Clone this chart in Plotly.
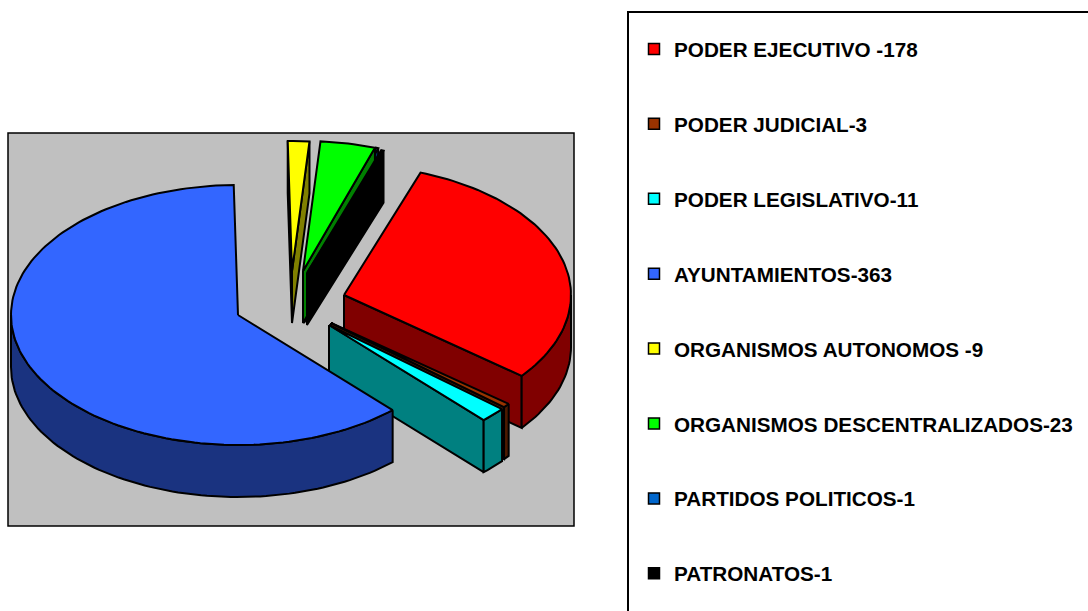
import math
import plotly.graph_objects as go

categories = ["PODER EJECUTIVO -178", "PODER JUDICIAL-3", "PODER LEGISLATIVO-11", "AYUNTAMIENTOS-363",
              "ORGANISMOS AUTONOMOS -9", "ORGANISMOS DESCENTRALIZADOS-23", "PARTIDOS POLITICOS-1", "PATRONATOS-1"]
values = [178, 3, 11, 363, 9, 23, 1, 1]
top_colors = ["#FF0000", "#993300", "#00FFFF", "#3366FF", "#FFFF00", "#00FF00", "#0066CC", "#000000"]
side_colors = ["#800000", "#4D1A00", "#008080", "#1A3380", "#808000", "#008000", "#003366", "#000000"]

# Drawing geometry (pixels of the pseudo-3D projection)
apex_x = [344, 331, 329, 238, 292, 303, 304, 307]
apex_y = [295, 323, 325, 315, 271, 271, 271, 273]
RX, RY, DEPTH = 227, 130, 52
START_DEG = 19.7
LINE = 2
draw_order = [6, 4, 5, 7, 0, 1, 2, 3]

total = sum(values)
starts, ends = [], []
a = START_DEG
for v in values:
    starts.append(a)
    a += v / total * 360
    ends.append(a)


def pt(i, deg):
    t = math.radians(deg)
    return apex_x[i] + RX * math.sin(t), apex_y[i] - RY * math.cos(t)


def arc(i, a0, a1):
    n = max(2, int(abs(a1 - a0) / 1.5) + 2)
    return [pt(i, a0 + (a1 - a0) * k / (n - 1)) for k in range(n)]


fig = go.Figure()


def poly(points, color, hover):
    xs = [p[0] for p in points] + [points[0][0]]
    ys = [p[1] for p in points] + [points[0][1]]
    fig.add_trace(go.Scatter(x=xs, y=ys, mode="lines", fill="toself", fillcolor=color,
                             line=dict(color="black", width=LINE), showlegend=False,
                             hoverinfo="text", text=hover))


def face(i, deg, color, hover):
    p = pt(i, deg)
    o = (apex_x[i], apex_y[i])
    poly([o, p, (p[0], p[1] + DEPTH), (o[0], o[1] + DEPTH)], color, hover)


for i in draw_order:
    s, e = starts[i], ends[i]
    # radial faces that turn towards the viewer
    if math.cos(math.radians(s - 90)) < 0:
        face(i, s, side_colors[i], categories[i])
    if math.cos(math.radians(e + 90)) < 0:
        face(i, e, side_colors[i], categories[i])
    # outer rim, front-facing part only (90..270 degrees)
    for k in (0, 360):
        lo, hi = max(s, 90 + k), min(e, 270 + k)
        if lo < hi:
            rim = arc(i, lo, hi)
            poly(rim + [(x, y + DEPTH) for x, y in reversed(rim)], side_colors[i], categories[i])
    # top
    poly([(apex_x[i], apex_y[i])] + arc(i, s, e), top_colors[i], categories[i])

# Legend entries
for name, c in zip(categories, top_colors):
    fig.add_trace(go.Scatter(x=[None], y=[None], mode="markers", name=name, legendgroup=name,
                             marker=dict(symbol="square", size=11, color=c, line=dict(color="black", width=1.5))))

fig.update_layout(
    width=1088, height=611, autosize=False,
    margin=dict(l=0, r=0, t=0, b=0),
    paper_bgcolor="white", plot_bgcolor="white",
    xaxis=dict(range=[0, 1088], visible=False, fixedrange=True),
    yaxis=dict(range=[611, 0], visible=False, fixedrange=True),
    legend=dict(x=644 / 1088, y=1 - 29 / 611, xanchor="left", yanchor="top", bgcolor="rgba(0,0,0,0)",
                traceorder="grouped", tracegroupgap=45, itemwidth=30, indentation=-10,
                font=dict(family="Liberation Sans, Arial, sans-serif", size=20.7, color="black", weight=700)),
    shapes=[
        dict(type="rect", xref="x", yref="y", x0=8, x1=574, y0=133, y1=526, layer="below",
             fillcolor="#C0C0C0", line=dict(color="black", width=1.5)),
        dict(type="rect", xref="x", yref="y", x0=628, x1=1100, y0=12, y1=625, layer="below",
             fillcolor="white", line=dict(color="black", width=2)),
    ],
)
fig.write_html("out.html", config={"displayModeBar": False},
               post_script="document.body.style.margin='0';")
